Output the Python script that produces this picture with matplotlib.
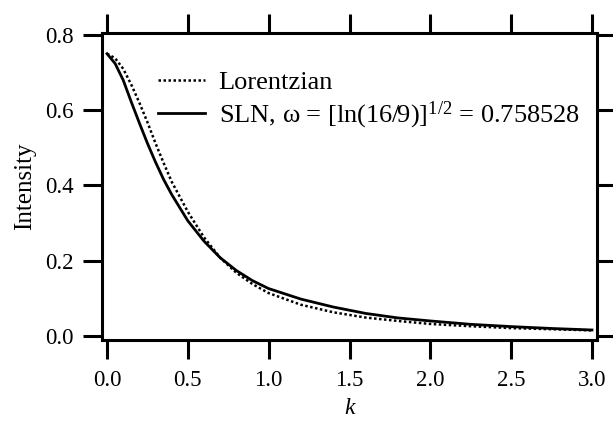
import matplotlib
matplotlib.use("Agg")
import matplotlib.pyplot as plt

# values
k_vals = [0.0, 0.05, 0.1, 0.15, 0.2, 0.25, 0.3, 0.35, 0.4, 0.5, 0.6, 0.7,
          0.8, 0.9, 1.0, 1.2, 1.4, 1.6, 1.8, 2.0, 2.25, 2.5, 2.75, 3.0]
lorentzian = [0.750, 0.738, 0.710, 0.668, 0.620, 0.568, 0.512, 0.460, 0.410,
              0.330, 0.262, 0.208, 0.168, 0.138, 0.114, 0.083, 0.063, 0.049,
              0.040, 0.032, 0.026, 0.021, 0.018, 0.015]
sln = [0.750, 0.724, 0.680, 0.622, 0.566, 0.512, 0.462, 0.416, 0.376,
       0.306, 0.252, 0.208, 0.174, 0.147, 0.126, 0.098, 0.077, 0.060,
       0.048, 0.040, 0.031, 0.025, 0.020, 0.016]

x_ticks = [0.0, 0.5, 1.0, 1.5, 2.0, 2.5, 3.0]
y_ticks = [0.0, 0.2, 0.4, 0.6, 0.8]

plt.rcParams['font.family'] = ['Liberation Serif', 'DejaVu Serif']
plt.rcParams['mathtext.fontset'] = 'custom'
plt.rcParams['mathtext.rm'] = 'Liberation Serif'
plt.rcParams['mathtext.it'] = 'Liberation Serif:italic'

fig = plt.figure(figsize=(6.13, 4.26), dpi=100)
ax = fig.add_axes([102 / 613, 86 / 426, 495 / 613, 307 / 426])

ax.plot(k_vals, lorentzian, color='black', lw=1.8, linestyle=(0, (1, 1)),
        label='Lorentzian')
ax.plot(k_vals, sln, color='black', lw=2.0,
        label=r'SLN, ω = [ln(16/9)]$^{1/2}$ = 0.758528')

ax.set_xlim(-0.031, 3.031)
ax.set_ylim(-0.0106, 0.805)
ax.set_xticks(x_ticks)
ax.set_xticklabels([f'{v:.1f}' for v in x_ticks])
ax.set_yticks(y_ticks)
ax.set_yticklabels([f'{v:.1f}' for v in y_ticks])

for s in ax.spines.values():
    s.set_linewidth(2.2)
ax.tick_params(axis='both', which='major', direction='out', length=13.5,
               width=2.2, labelsize=16.5, top=True, right=True,
               labeltop=False, labelright=False)
ax.tick_params(axis='x', pad=8)
ax.tick_params(axis='y', pad=7)

ax.set_xlabel('k', fontsize=17, style='italic', labelpad=5)
ax.set_ylabel('Intensity', fontsize=18, labelpad=6)

ax.legend(loc='upper left', bbox_to_anchor=(0.113, 0.877), frameon=False,
          fontsize=19, handlelength=1.8, handletextpad=0.5,
          labelspacing=0.2, borderpad=0, borderaxespad=0)

fig.savefig('out.png', dpi=100)
